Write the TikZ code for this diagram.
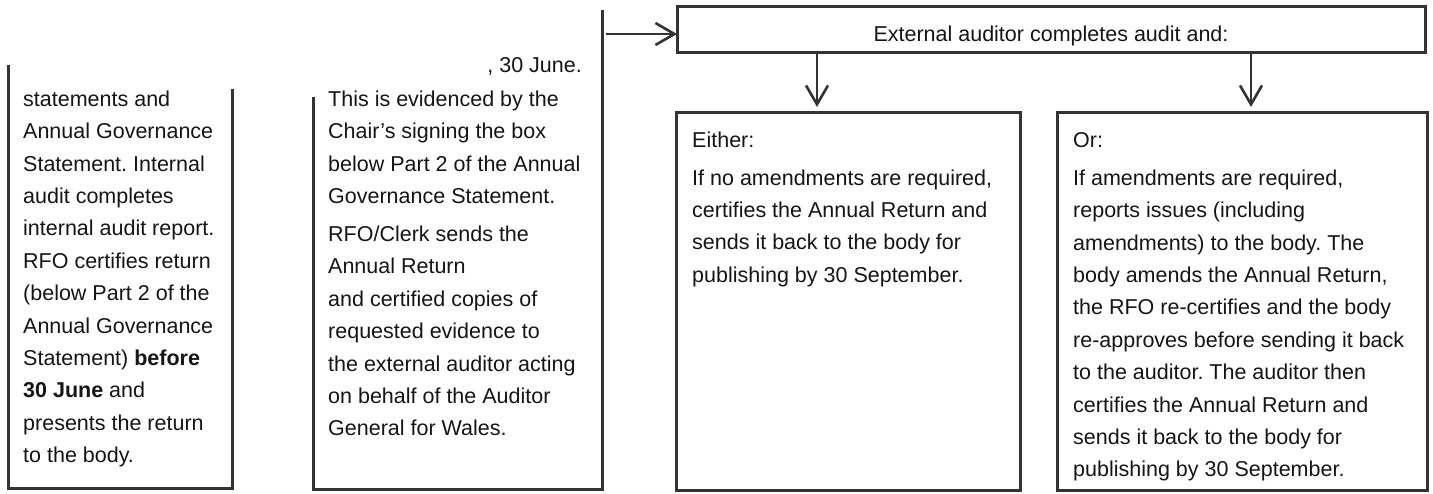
\documentclass[tikz,border=0pt]{standalone}
\usepackage{fontspec}
\setmainfont{Liberation Sans}
\usetikzlibrary{arrows.meta}
\definecolor{ink}{HTML}{333333}
\definecolor{txt}{HTML}{151515}
\frenchspacing
\begin{document}
\begin{tikzpicture}[x=1pt,y=-1pt,
  edge/.style={draw=ink, line width=3pt, line join=miter},
  conn/.style={draw=ink, line width=2.6pt, -{Straight Barb[length=19pt,width=22pt]}},
  body/.style={anchor=north west, inner sep=0pt, align=left, text=txt, font=\fontsize{21.5}{32.4}\selectfont},
  boxnode/.style={edge, rectangle, inner sep=0pt, outer sep=0pt, anchor=north west}
]
\path[use as bounding box, fill=white] (0,0) rectangle (1433,494);

% left (partially visible) box
\draw[edge] (8,65) -- (8,488) -- (232,488) -- (232,89);
\node[body] (t1) at (23,90) {\rule{0pt}{16pt}statements and\\
Annual Governance\\
Statement. Internal\\
audit completes\\
internal audit report.\\
RFO certifies return\\
(below Part 2 of the\\
Annual Governance\\
Statement) \textbf{before}\\
\textbf{30 June} and\\
presents the return\\
to the body.};

% second (partially visible) box
\draw[edge] (313,97) -- (313,489) -- (602,489) -- (602,10);
\node[body, anchor=base east] (t2a) at (582,73) {, 30 June.};
\node[body] (t2) at (328,90) {\rule{0pt}{16pt}This is evidenced by the\\
Chair’s signing the box\\
below Part 2 of the Annual\\
Governance Statement.\\[5.6pt]
RFO/Clerk sends the\\
Annual Return\\
and certified copies of\\
requested evidence to\\
the external auditor acting\\
on behalf of the Auditor\\
General for Wales.};
\coordinate (b2r) at (602,34);

% top box
\node[boxnode, minimum width=748pt, minimum height=46pt, text height=23pt, text depth=0pt,
      text=txt, font=\fontsize{21.5}{26}\selectfont] (top) at (677,7) {External auditor completes audit and:};

% either / or boxes
\node[boxnode, minimum width=344pt, minimum height=377pt] (either) at (676,113) {};
\node[boxnode, minimum width=370pt, minimum height=377pt] (or) at (1057,113) {};

\node[body] (eithertxt) at (692,131) {\rule{0pt}{16pt}Either:\\[5.6pt]
If no amendments are required,\\
certifies the Annual Return and\\
sends it back to the body for\\
publishing by 30 September.};

\node[body] (ortxt) at (1073,131) {\rule{0pt}{16pt}Or:\\[5.6pt]
If amendments are required,\\
reports issues (including\\
amendments) to the body. The\\
body amends the Annual Return,\\
the RFO re-certifies and the body\\
re-approves before sending it back\\
to the auditor. The auditor then\\
certifies the Annual Return and\\
sends it back to the body for\\
publishing by 30 September.};

% connectors
\draw[conn, shorten <=4pt] (b2r) -- (b2r -| top.west);
\draw[conn, shorten >=6pt] (top.south west) ++(140,0) coordinate (d1s) -- (d1s |- either.north);
\draw[conn, shorten >=6pt] (top.south west) ++(574,0) coordinate (d2s) -- (d2s |- or.north);
\end{tikzpicture}
\end{document}
